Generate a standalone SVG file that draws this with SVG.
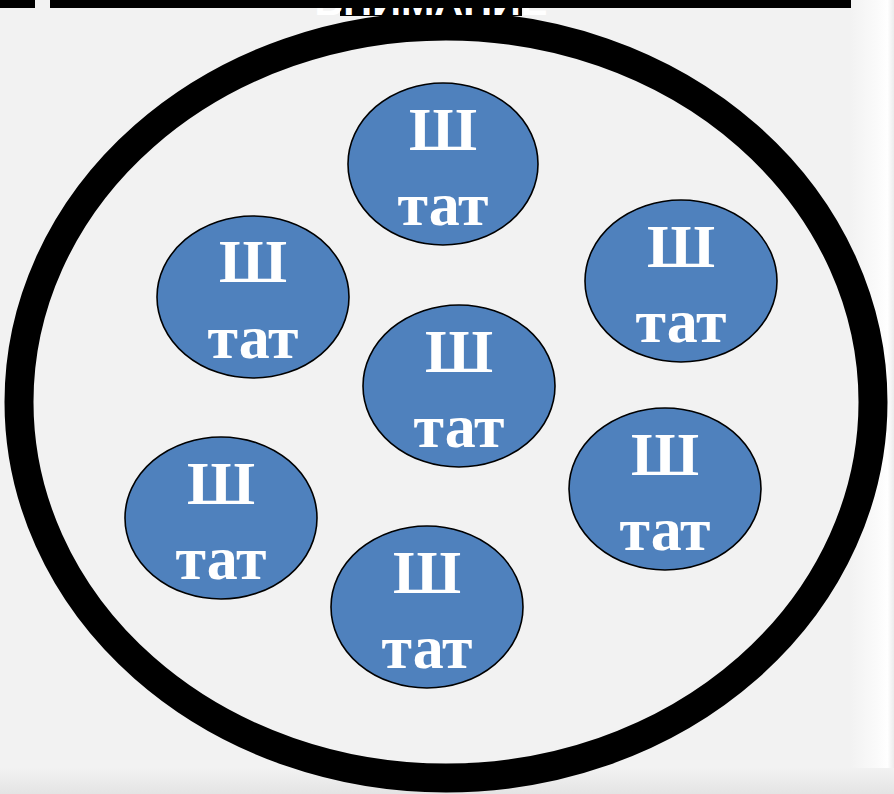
<svg xmlns="http://www.w3.org/2000/svg" width="894" height="794" viewBox="0 0 894 794">
<defs>
<style>
.node ellipse{fill:#4F81BD;stroke:#000;stroke-width:1.6}
.node text{font-family:"Liberation Serif","Times New Roman",serif;font-weight:bold;fill:#fff;text-anchor:middle}
.big{font-size:62px}
</style>
<linearGradient id="rg" x1="0" y1="0" x2="1" y2="0">
<stop offset="0" stop-color="#f2f2f2"/>
<stop offset="0.6" stop-color="#fafafa"/>
<stop offset="0.85" stop-color="#ffffff"/>
<stop offset="1" stop-color="#ececec"/>
</linearGradient>
<linearGradient id="bg" x1="0" y1="0" x2="0" y2="1">
<stop offset="0" stop-color="#f2f2f2"/>
<stop offset="1" stop-color="#e4e4e4"/>
</linearGradient>
<clipPath id="tc"><rect x="0" y="8" width="894" height="7"/></clipPath>
</defs>
<rect width="894" height="794" fill="#f2f2f2"/>
<rect x="850" y="0" width="44" height="794" fill="url(#rg)"/>
<rect x="0" y="768" width="894" height="26" fill="url(#bg)"/>
<ellipse cx="446" cy="402" rx="427" ry="376" fill="none" stroke="#000" stroke-width="29"/>
<rect x="340" y="0" width="182" height="16" fill="#000"/>
<text x="431" y="15" clip-path="url(#tc)" font-family="Liberation Sans,Arial,sans-serif" font-weight="bold" font-size="40" fill="#fff" text-anchor="middle">ВНИМАНИЕ</text>
<rect x="0" y="0" width="35" height="8" fill="#000"/>
<rect x="50" y="0" width="801" height="8" fill="#000"/>
<g id="connectors"></g>
<g id="n1" class="node"><ellipse cx="443" cy="164" rx="95" ry="81"/><text class="big" x="443" y="150">Ш</text><text class="big" x="443" y="225">тат</text></g>
<g id="n2" class="node"><ellipse cx="253" cy="297" rx="96" ry="81"/><text class="big" x="253" y="282">Ш</text><text class="big" x="253" y="358">тат</text></g>
<g id="n3" class="node"><ellipse cx="681" cy="281" rx="96" ry="81"/><text class="big" x="681" y="267">Ш</text><text class="big" x="681" y="342">тат</text></g>
<g id="n4" class="node"><ellipse cx="459" cy="386" rx="96" ry="81"/><text class="big" x="459" y="372">Ш</text><text class="big" x="459" y="447">тат</text></g>
<g id="n5" class="node"><ellipse cx="665" cy="489" rx="96" ry="81"/><text class="big" x="665" y="475">Ш</text><text class="big" x="665" y="550">тат</text></g>
<g id="n6" class="node"><ellipse cx="221" cy="518" rx="96" ry="81"/><text class="big" x="221" y="504">Ш</text><text class="big" x="221" y="579">тат</text></g>
<g id="n7" class="node"><ellipse cx="427" cy="607" rx="96" ry="81"/><text class="big" x="427" y="593">Ш</text><text class="big" x="427" y="668">тат</text></g>
</svg>
